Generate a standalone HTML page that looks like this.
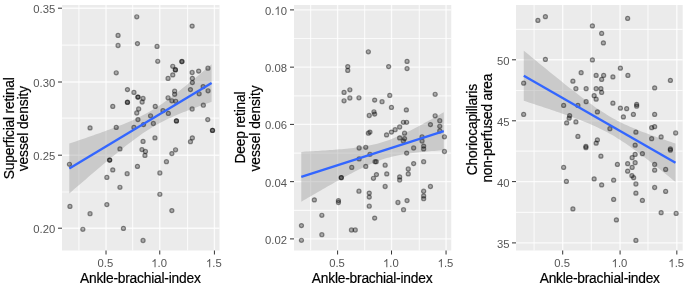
<!DOCTYPE html><html><head><meta charset="utf-8"><style>html,body{margin:0;padding:0;background:#fff;overflow:hidden}</style></head><body><svg width="685" height="288" viewBox="0 0 685 288" style="display:block;filter:blur(0.6px)">
<rect width="685" height="288" fill="#ffffff"/>
<rect x="62.0" y="5.0" width="157.50" height="245.50" fill="#EBEBEB"/>
<line x1="62.0" x2="219.5" y1="45.20" y2="45.20" stroke="#fff" stroke-opacity="0.72" stroke-width="1.2"/>
<line x1="62.0" x2="219.5" y1="118.10" y2="118.10" stroke="#fff" stroke-opacity="0.72" stroke-width="1.2"/>
<line x1="62.0" x2="219.5" y1="192.00" y2="192.00" stroke="#fff" stroke-opacity="0.72" stroke-width="1.2"/>
<line x1="78.93" x2="78.93" y1="5.0" y2="250.5" stroke="#fff" stroke-opacity="0.72" stroke-width="1.2"/>
<line x1="132.66" x2="132.66" y1="5.0" y2="250.5" stroke="#fff" stroke-opacity="0.72" stroke-width="1.2"/>
<line x1="187.55" x2="187.55" y1="5.0" y2="250.5" stroke="#fff" stroke-opacity="0.72" stroke-width="1.2"/>
<line x1="62.0" x2="219.5" y1="8.20" y2="8.20" stroke="#fff" stroke-opacity="0.78" stroke-width="1.4"/>
<line x1="62.0" x2="219.5" y1="82.00" y2="82.00" stroke="#fff" stroke-opacity="0.78" stroke-width="1.4"/>
<line x1="62.0" x2="219.5" y1="155.20" y2="155.20" stroke="#fff" stroke-opacity="0.78" stroke-width="1.4"/>
<line x1="62.0" x2="219.5" y1="228.20" y2="228.20" stroke="#fff" stroke-opacity="0.78" stroke-width="1.4"/>
<line x1="106.03" x2="106.03" y1="5.0" y2="250.5" stroke="#fff" stroke-opacity="0.78" stroke-width="1.4"/>
<line x1="159.75" x2="159.75" y1="5.0" y2="250.5" stroke="#fff" stroke-opacity="0.78" stroke-width="1.4"/>
<line x1="214.41" x2="214.41" y1="5.0" y2="250.5" stroke="#fff" stroke-opacity="0.78" stroke-width="1.4"/>
<polygon fill="#999999" fill-opacity="0.4" points="69.30,143.54 71.67,142.74 74.04,141.94 76.41,141.14 78.79,140.34 81.16,139.53 83.53,138.72 85.90,137.91 88.27,137.09 90.64,136.27 93.02,135.44 95.39,134.61 97.76,133.77 100.13,132.93 102.50,132.08 104.88,131.22 107.25,130.36 109.62,129.48 111.99,128.60 114.36,127.70 116.73,126.79 119.10,125.87 121.48,124.93 123.85,123.97 126.22,122.99 128.59,121.99 130.96,120.96 133.34,119.91 135.71,118.82 138.08,117.69 140.45,116.53 142.82,115.33 145.19,114.08 147.56,112.78 149.94,111.43 152.31,110.02 154.68,108.57 157.05,107.07 159.42,105.51 161.80,103.91 164.17,102.26 166.54,100.57 168.91,98.84 171.28,97.07 173.65,95.27 176.03,93.45 178.40,91.60 180.77,89.72 183.14,87.83 185.51,85.92 187.88,83.99 190.25,82.05 192.63,80.09 195.00,78.13 197.37,76.15 199.74,74.16 202.11,72.17 204.49,70.17 206.86,68.16 209.23,66.15 211.60,64.13 211.60,101.87 209.23,102.70 206.86,103.54 204.49,104.38 202.11,105.23 199.74,106.09 197.37,106.95 195.00,107.82 192.63,108.71 190.25,109.60 187.88,110.51 185.51,111.43 183.14,112.37 180.77,113.33 178.40,114.30 176.03,115.30 173.65,116.33 171.28,117.38 168.91,118.46 166.54,119.58 164.17,120.74 161.80,121.94 159.42,123.19 157.05,124.48 154.68,125.83 152.31,127.23 149.94,128.67 147.56,130.17 145.19,131.72 142.82,133.32 140.45,134.97 138.08,136.66 135.71,138.38 133.34,140.14 130.96,141.94 128.59,143.76 126.22,145.61 123.85,147.48 121.48,149.37 119.10,151.28 116.73,153.21 114.36,155.15 111.99,157.10 109.62,159.07 107.25,161.04 104.88,163.03 102.50,165.02 100.13,167.02 97.76,169.03 95.39,171.04 93.02,173.06 90.64,175.08 88.27,177.11 85.90,179.14 83.53,181.18 81.16,183.22 78.79,185.26 76.41,187.31 74.04,189.36 71.67,191.41 69.30,193.46"/>
<circle cx="136.75" cy="16.799999999999997" r="2.05" fill="#000" fill-opacity="0.28" stroke="#000" stroke-opacity="0.42" stroke-width="1.2"/>
<circle cx="192.15" cy="26.099999999999998" r="2.05" fill="#000" fill-opacity="0.28" stroke="#000" stroke-opacity="0.42" stroke-width="1.2"/>
<circle cx="118.05000000000001" cy="35.4" r="2.05" fill="#000" fill-opacity="0.28" stroke="#000" stroke-opacity="0.42" stroke-width="1.2"/>
<circle cx="118.05000000000001" cy="45.5" r="2.05" fill="#000" fill-opacity="0.28" stroke="#000" stroke-opacity="0.42" stroke-width="1.2"/>
<circle cx="137.45000000000002" cy="43.6" r="2.05" fill="#000" fill-opacity="0.28" stroke="#000" stroke-opacity="0.42" stroke-width="1.2"/>
<circle cx="157.05" cy="46.4" r="2.05" fill="#000" fill-opacity="0.28" stroke="#000" stroke-opacity="0.42" stroke-width="1.2"/>
<circle cx="157.75" cy="61.3" r="2.05" fill="#000" fill-opacity="0.28" stroke="#000" stroke-opacity="0.42" stroke-width="1.2"/>
<circle cx="181.85" cy="61.6" r="2.05" fill="#000" fill-opacity="0.28" stroke="#000" stroke-opacity="0.42" stroke-width="1.2"/>
<circle cx="172.75" cy="66.30000000000001" r="2.05" fill="#000" fill-opacity="0.28" stroke="#000" stroke-opacity="0.42" stroke-width="1.2"/>
<circle cx="207.95000000000002" cy="68.2" r="2.05" fill="#000" fill-opacity="0.28" stroke="#000" stroke-opacity="0.42" stroke-width="1.2"/>
<circle cx="175.35" cy="69.7" r="2.05" fill="#000" fill-opacity="0.28" stroke="#000" stroke-opacity="0.42" stroke-width="1.2"/>
<circle cx="116.25" cy="72.80000000000001" r="2.05" fill="#000" fill-opacity="0.28" stroke="#000" stroke-opacity="0.42" stroke-width="1.2"/>
<circle cx="192.15" cy="72.5" r="2.05" fill="#000" fill-opacity="0.28" stroke="#000" stroke-opacity="0.42" stroke-width="1.2"/>
<circle cx="198.65" cy="71.10000000000001" r="2.05" fill="#000" fill-opacity="0.28" stroke="#000" stroke-opacity="0.42" stroke-width="1.2"/>
<circle cx="172.75" cy="74.9" r="2.05" fill="#000" fill-opacity="0.28" stroke="#000" stroke-opacity="0.42" stroke-width="1.2"/>
<circle cx="168.05" cy="78.4" r="2.05" fill="#000" fill-opacity="0.28" stroke="#000" stroke-opacity="0.42" stroke-width="1.2"/>
<circle cx="192.35" cy="78.4" r="2.05" fill="#000" fill-opacity="0.28" stroke="#000" stroke-opacity="0.42" stroke-width="1.2"/>
<circle cx="192.35" cy="82.60000000000001" r="2.05" fill="#000" fill-opacity="0.28" stroke="#000" stroke-opacity="0.42" stroke-width="1.2"/>
<circle cx="127.45" cy="89.60000000000001" r="2.05" fill="#000" fill-opacity="0.28" stroke="#000" stroke-opacity="0.42" stroke-width="1.2"/>
<circle cx="133.95000000000002" cy="92.4" r="2.05" fill="#000" fill-opacity="0.28" stroke="#000" stroke-opacity="0.42" stroke-width="1.2"/>
<circle cx="174.65" cy="91.2" r="2.05" fill="#000" fill-opacity="0.28" stroke="#000" stroke-opacity="0.42" stroke-width="1.2"/>
<circle cx="174.65" cy="94.30000000000001" r="2.05" fill="#000" fill-opacity="0.28" stroke="#000" stroke-opacity="0.42" stroke-width="1.2"/>
<circle cx="137.95000000000002" cy="97.10000000000001" r="2.05" fill="#000" fill-opacity="0.28" stroke="#000" stroke-opacity="0.42" stroke-width="1.2"/>
<circle cx="143.05" cy="98.5" r="2.05" fill="#000" fill-opacity="0.28" stroke="#000" stroke-opacity="0.42" stroke-width="1.2"/>
<circle cx="142.15" cy="102.0" r="2.05" fill="#000" fill-opacity="0.28" stroke="#000" stroke-opacity="0.42" stroke-width="1.2"/>
<circle cx="127.45" cy="102.4" r="2.05" fill="#000" fill-opacity="0.28" stroke="#000" stroke-opacity="0.42" stroke-width="1.2"/>
<circle cx="168.05" cy="97.80000000000001" r="2.05" fill="#000" fill-opacity="0.28" stroke="#000" stroke-opacity="0.42" stroke-width="1.2"/>
<circle cx="171.85" cy="100.80000000000001" r="2.05" fill="#000" fill-opacity="0.28" stroke="#000" stroke-opacity="0.42" stroke-width="1.2"/>
<circle cx="175.75" cy="101.30000000000001" r="2.05" fill="#000" fill-opacity="0.28" stroke="#000" stroke-opacity="0.42" stroke-width="1.2"/>
<circle cx="190.45000000000002" cy="89.60000000000001" r="2.05" fill="#000" fill-opacity="0.28" stroke="#000" stroke-opacity="0.42" stroke-width="1.2"/>
<circle cx="203.15" cy="86.60000000000001" r="2.05" fill="#000" fill-opacity="0.28" stroke="#000" stroke-opacity="0.42" stroke-width="1.2"/>
<circle cx="208.05" cy="90.80000000000001" r="2.05" fill="#000" fill-opacity="0.28" stroke="#000" stroke-opacity="0.42" stroke-width="1.2"/>
<circle cx="199.15" cy="93.80000000000001" r="2.05" fill="#000" fill-opacity="0.28" stroke="#000" stroke-opacity="0.42" stroke-width="1.2"/>
<circle cx="112.75" cy="106.4" r="2.05" fill="#000" fill-opacity="0.28" stroke="#000" stroke-opacity="0.42" stroke-width="1.2"/>
<circle cx="155.25" cy="106.4" r="2.05" fill="#000" fill-opacity="0.28" stroke="#000" stroke-opacity="0.42" stroke-width="1.2"/>
<circle cx="138.65" cy="109.0" r="2.05" fill="#000" fill-opacity="0.28" stroke="#000" stroke-opacity="0.42" stroke-width="1.2"/>
<circle cx="136.75" cy="113.0" r="2.05" fill="#000" fill-opacity="0.28" stroke="#000" stroke-opacity="0.42" stroke-width="1.2"/>
<circle cx="162.95000000000002" cy="110.60000000000001" r="2.05" fill="#000" fill-opacity="0.28" stroke="#000" stroke-opacity="0.42" stroke-width="1.2"/>
<circle cx="168.35" cy="113.4" r="2.05" fill="#000" fill-opacity="0.28" stroke="#000" stroke-opacity="0.42" stroke-width="1.2"/>
<circle cx="150.55" cy="115.80000000000001" r="2.05" fill="#000" fill-opacity="0.28" stroke="#000" stroke-opacity="0.42" stroke-width="1.2"/>
<circle cx="192.15" cy="109.0" r="2.05" fill="#000" fill-opacity="0.28" stroke="#000" stroke-opacity="0.42" stroke-width="1.2"/>
<circle cx="203.35" cy="105.2" r="2.05" fill="#000" fill-opacity="0.28" stroke="#000" stroke-opacity="0.42" stroke-width="1.2"/>
<circle cx="137.95000000000002" cy="119.60000000000001" r="2.05" fill="#000" fill-opacity="0.28" stroke="#000" stroke-opacity="0.42" stroke-width="1.2"/>
<circle cx="153.35" cy="123.5" r="2.05" fill="#000" fill-opacity="0.28" stroke="#000" stroke-opacity="0.42" stroke-width="1.2"/>
<circle cx="176.45000000000002" cy="120.9" r="2.05" fill="#000" fill-opacity="0.28" stroke="#000" stroke-opacity="0.42" stroke-width="1.2"/>
<circle cx="207.75" cy="119.60000000000001" r="2.05" fill="#000" fill-opacity="0.28" stroke="#000" stroke-opacity="0.42" stroke-width="1.2"/>
<circle cx="116.25" cy="127.4" r="2.05" fill="#000" fill-opacity="0.28" stroke="#000" stroke-opacity="0.42" stroke-width="1.2"/>
<circle cx="90.05000000000001" cy="127.9" r="2.05" fill="#000" fill-opacity="0.28" stroke="#000" stroke-opacity="0.42" stroke-width="1.2"/>
<circle cx="133.95000000000002" cy="127.4" r="2.05" fill="#000" fill-opacity="0.28" stroke="#000" stroke-opacity="0.42" stroke-width="1.2"/>
<circle cx="143.55" cy="124.60000000000001" r="2.05" fill="#000" fill-opacity="0.28" stroke="#000" stroke-opacity="0.42" stroke-width="1.2"/>
<circle cx="212.45000000000002" cy="130.4" r="2.05" fill="#000" fill-opacity="0.28" stroke="#000" stroke-opacity="0.42" stroke-width="1.2"/>
<circle cx="154.95000000000002" cy="137.9" r="2.05" fill="#000" fill-opacity="0.28" stroke="#000" stroke-opacity="0.42" stroke-width="1.2"/>
<circle cx="143.05" cy="141.4" r="2.05" fill="#000" fill-opacity="0.28" stroke="#000" stroke-opacity="0.42" stroke-width="1.2"/>
<circle cx="192.35" cy="137.9" r="2.05" fill="#000" fill-opacity="0.28" stroke="#000" stroke-opacity="0.42" stroke-width="1.2"/>
<circle cx="190.45000000000002" cy="141.70000000000002" r="2.05" fill="#000" fill-opacity="0.28" stroke="#000" stroke-opacity="0.42" stroke-width="1.2"/>
<circle cx="119.95" cy="148.9" r="2.05" fill="#000" fill-opacity="0.28" stroke="#000" stroke-opacity="0.42" stroke-width="1.2"/>
<circle cx="141.95000000000002" cy="149.6" r="2.05" fill="#000" fill-opacity="0.28" stroke="#000" stroke-opacity="0.42" stroke-width="1.2"/>
<circle cx="145.45000000000002" cy="151.5" r="2.05" fill="#000" fill-opacity="0.28" stroke="#000" stroke-opacity="0.42" stroke-width="1.2"/>
<circle cx="144.95000000000002" cy="155.4" r="2.05" fill="#000" fill-opacity="0.28" stroke="#000" stroke-opacity="0.42" stroke-width="1.2"/>
<circle cx="175.55" cy="149.8" r="2.05" fill="#000" fill-opacity="0.28" stroke="#000" stroke-opacity="0.42" stroke-width="1.2"/>
<circle cx="171.85" cy="153.6" r="2.05" fill="#000" fill-opacity="0.28" stroke="#000" stroke-opacity="0.42" stroke-width="1.2"/>
<circle cx="69.45" cy="164.3" r="2.05" fill="#000" fill-opacity="0.28" stroke="#000" stroke-opacity="0.42" stroke-width="1.2"/>
<circle cx="109.65" cy="160.1" r="2.05" fill="#000" fill-opacity="0.28" stroke="#000" stroke-opacity="0.42" stroke-width="1.2"/>
<circle cx="166.45000000000002" cy="161.70000000000002" r="2.05" fill="#000" fill-opacity="0.28" stroke="#000" stroke-opacity="0.42" stroke-width="1.2"/>
<circle cx="137.45000000000002" cy="166.4" r="2.05" fill="#000" fill-opacity="0.28" stroke="#000" stroke-opacity="0.42" stroke-width="1.2"/>
<circle cx="112.75" cy="169.9" r="2.05" fill="#000" fill-opacity="0.28" stroke="#000" stroke-opacity="0.42" stroke-width="1.2"/>
<circle cx="127.15" cy="173.70000000000002" r="2.05" fill="#000" fill-opacity="0.28" stroke="#000" stroke-opacity="0.42" stroke-width="1.2"/>
<circle cx="159.85" cy="173.0" r="2.05" fill="#000" fill-opacity="0.28" stroke="#000" stroke-opacity="0.42" stroke-width="1.2"/>
<circle cx="106.85000000000001" cy="177.4" r="2.05" fill="#000" fill-opacity="0.28" stroke="#000" stroke-opacity="0.42" stroke-width="1.2"/>
<circle cx="119.95" cy="187.3" r="2.05" fill="#000" fill-opacity="0.28" stroke="#000" stroke-opacity="0.42" stroke-width="1.2"/>
<circle cx="159.85" cy="194.3" r="2.05" fill="#000" fill-opacity="0.28" stroke="#000" stroke-opacity="0.42" stroke-width="1.2"/>
<circle cx="69.95" cy="206.4" r="2.05" fill="#000" fill-opacity="0.28" stroke="#000" stroke-opacity="0.42" stroke-width="1.2"/>
<circle cx="106.85000000000001" cy="204.6" r="2.05" fill="#000" fill-opacity="0.28" stroke="#000" stroke-opacity="0.42" stroke-width="1.2"/>
<circle cx="90.05000000000001" cy="213.70000000000002" r="2.05" fill="#000" fill-opacity="0.28" stroke="#000" stroke-opacity="0.42" stroke-width="1.2"/>
<circle cx="171.85" cy="210.6" r="2.05" fill="#000" fill-opacity="0.28" stroke="#000" stroke-opacity="0.42" stroke-width="1.2"/>
<circle cx="82.85000000000001" cy="229.3" r="2.05" fill="#000" fill-opacity="0.28" stroke="#000" stroke-opacity="0.42" stroke-width="1.2"/>
<circle cx="123.45" cy="228.4" r="2.05" fill="#000" fill-opacity="0.28" stroke="#000" stroke-opacity="0.42" stroke-width="1.2"/>
<circle cx="143.05" cy="240.5" r="2.05" fill="#000" fill-opacity="0.28" stroke="#000" stroke-opacity="0.42" stroke-width="1.2"/>
<circle cx="181.95000000000002" cy="61.5" r="2.05" fill="#000" fill-opacity="0.28" stroke="#000" stroke-opacity="0.42" stroke-width="1.2"/>
<circle cx="175.45000000000002" cy="69.9" r="2.05" fill="#000" fill-opacity="0.28" stroke="#000" stroke-opacity="0.42" stroke-width="1.2"/>
<circle cx="137.95000000000002" cy="97.10000000000001" r="2.05" fill="#000" fill-opacity="0.28" stroke="#000" stroke-opacity="0.42" stroke-width="1.2"/>
<circle cx="127.45" cy="102.2" r="2.05" fill="#000" fill-opacity="0.28" stroke="#000" stroke-opacity="0.42" stroke-width="1.2"/>
<circle cx="176.45000000000002" cy="120.9" r="2.05" fill="#000" fill-opacity="0.28" stroke="#000" stroke-opacity="0.42" stroke-width="1.2"/>
<circle cx="212.55" cy="130.4" r="2.05" fill="#000" fill-opacity="0.28" stroke="#000" stroke-opacity="0.42" stroke-width="1.2"/>
<circle cx="109.65" cy="160.1" r="2.05" fill="#000" fill-opacity="0.28" stroke="#000" stroke-opacity="0.42" stroke-width="1.2"/>
<line x1="69.3" y1="168.5" x2="211.6" y2="83.0" stroke="#3366FF" stroke-width="2.3" stroke-linecap="butt"/>
<line x1="58.0" x2="62.0" y1="8.20" y2="8.20" stroke="#333" stroke-width="1"/>
<line x1="58.0" x2="62.0" y1="82.00" y2="82.00" stroke="#333" stroke-width="1"/>
<line x1="58.0" x2="62.0" y1="155.20" y2="155.20" stroke="#333" stroke-width="1"/>
<line x1="58.0" x2="62.0" y1="228.20" y2="228.20" stroke="#333" stroke-width="1"/>
<line x1="106.03" x2="106.03" y1="250.5" y2="254.5" stroke="#333" stroke-width="1"/>
<line x1="159.75" x2="159.75" y1="250.5" y2="254.5" stroke="#333" stroke-width="1"/>
<line x1="214.41" x2="214.41" y1="250.5" y2="254.5" stroke="#333" stroke-width="1"/>
<g transform="translate(33.31,13.25) scale(1,1.04)"><text x="0.00" y="0" font-family='"Liberation Sans", sans-serif' font-size="11.3" fill="#555555" stroke="#555555" stroke-width="0.0">0</text><text x="6.28" y="0" font-family='"Liberation Sans", sans-serif' font-size="11.3" fill="#555555" stroke="#555555" stroke-width="0.0">.</text><text x="9.42" y="0" font-family='"Liberation Sans", sans-serif' font-size="11.3" fill="#555555" stroke="#555555" stroke-width="0.0">3</text><text x="15.71" y="0" font-family='"Liberation Sans", sans-serif' font-size="11.3" fill="#555555" stroke="#555555" stroke-width="0.0">5</text></g>
<g transform="translate(33.31,87.05) scale(1,1.04)"><text x="0.00" y="0" font-family='"Liberation Sans", sans-serif' font-size="11.3" fill="#555555" stroke="#555555" stroke-width="0.0">0</text><text x="6.28" y="0" font-family='"Liberation Sans", sans-serif' font-size="11.3" fill="#555555" stroke="#555555" stroke-width="0.0">.</text><text x="9.42" y="0" font-family='"Liberation Sans", sans-serif' font-size="11.3" fill="#555555" stroke="#555555" stroke-width="0.0">3</text><text x="15.71" y="0" font-family='"Liberation Sans", sans-serif' font-size="11.3" fill="#555555" stroke="#555555" stroke-width="0.0">0</text></g>
<g transform="translate(33.31,160.25) scale(1,1.04)"><text x="0.00" y="0" font-family='"Liberation Sans", sans-serif' font-size="11.3" fill="#555555" stroke="#555555" stroke-width="0.0">0</text><text x="6.28" y="0" font-family='"Liberation Sans", sans-serif' font-size="11.3" fill="#555555" stroke="#555555" stroke-width="0.0">.</text><text x="9.42" y="0" font-family='"Liberation Sans", sans-serif' font-size="11.3" fill="#555555" stroke="#555555" stroke-width="0.0">2</text><text x="15.71" y="0" font-family='"Liberation Sans", sans-serif' font-size="11.3" fill="#555555" stroke="#555555" stroke-width="0.0">5</text></g>
<g transform="translate(33.31,233.25) scale(1,1.04)"><text x="0.00" y="0" font-family='"Liberation Sans", sans-serif' font-size="11.3" fill="#555555" stroke="#555555" stroke-width="0.0">0</text><text x="6.28" y="0" font-family='"Liberation Sans", sans-serif' font-size="11.3" fill="#555555" stroke="#555555" stroke-width="0.0">.</text><text x="9.42" y="0" font-family='"Liberation Sans", sans-serif' font-size="11.3" fill="#555555" stroke="#555555" stroke-width="0.0">2</text><text x="15.71" y="0" font-family='"Liberation Sans", sans-serif' font-size="11.3" fill="#555555" stroke="#555555" stroke-width="0.0">0</text></g>
<g transform="translate(97.58,267.35) scale(1,1.04)"><text x="0.00" y="0" font-family='"Liberation Sans", sans-serif' font-size="11.3" fill="#555555" stroke="#555555" stroke-width="0.0">0</text><text x="6.28" y="0" font-family='"Liberation Sans", sans-serif' font-size="11.3" fill="#555555" stroke="#555555" stroke-width="0.0">.</text><text x="9.42" y="0" font-family='"Liberation Sans", sans-serif' font-size="11.3" fill="#555555" stroke="#555555" stroke-width="0.0">5</text></g>
<g transform="translate(151.30,267.35) scale(1,1.04)"><path d="M4.24,-8.09 L4.24,0.00 L3.24,0.00 L3.24,-6.33 L2.77,-5.88 L2.03,-5.42 L1.19,-5.09 L1.19,-6.05 L2.15,-6.55 L2.83,-7.18 L3.39,-8.09Z" fill="#555555" stroke="#555555" stroke-width="0.0"/><text x="6.28" y="0" font-family='"Liberation Sans", sans-serif' font-size="11.3" fill="#555555" stroke="#555555" stroke-width="0.0">.</text><text x="9.42" y="0" font-family='"Liberation Sans", sans-serif' font-size="11.3" fill="#555555" stroke="#555555" stroke-width="0.0">0</text></g>
<g transform="translate(205.96,267.35) scale(1,1.04)"><path d="M4.24,-8.09 L4.24,0.00 L3.24,0.00 L3.24,-6.33 L2.77,-5.88 L2.03,-5.42 L1.19,-5.09 L1.19,-6.05 L2.15,-6.55 L2.83,-7.18 L3.39,-8.09Z" fill="#555555" stroke="#555555" stroke-width="0.0"/><text x="6.28" y="0" font-family='"Liberation Sans", sans-serif' font-size="11.3" fill="#555555" stroke="#555555" stroke-width="0.0">.</text><text x="9.42" y="0" font-family='"Liberation Sans", sans-serif' font-size="11.3" fill="#555555" stroke="#555555" stroke-width="0.0">5</text></g>
<text transform="translate(80.00,282.9) scale(1,1.05)" x="0" y="0" textLength="120.80" lengthAdjust="spacing" font-family='"Liberation Sans", sans-serif' font-size="13.8" fill="#000" stroke="#000" stroke-width="0.18">Ankle-brachial-index</text>
<text transform="translate(13.75,179.20) rotate(-90) scale(1,1.05)" x="0" y="0" textLength="102.10" lengthAdjust="spacing" font-family='"Liberation Sans", sans-serif' font-size="13.8" fill="#000" stroke="#000" stroke-width="0.18">Superficial retinal</text>
<text transform="translate(27.75,171.30) rotate(-90) scale(1,1.05)" x="0" y="0" textLength="85.50" lengthAdjust="spacing" font-family='"Liberation Sans", sans-serif' font-size="13.8" fill="#000" stroke="#000" stroke-width="0.18">vessel density</text>
<rect x="294.0" y="5.0" width="157.25" height="245.50" fill="#EBEBEB"/>
<line x1="294.0" x2="451.25" y1="38.52" y2="38.52" stroke="#fff" stroke-opacity="0.72" stroke-width="1.2"/>
<line x1="294.0" x2="451.25" y1="95.78" y2="95.78" stroke="#fff" stroke-opacity="0.72" stroke-width="1.2"/>
<line x1="294.0" x2="451.25" y1="153.03" y2="153.03" stroke="#fff" stroke-opacity="0.72" stroke-width="1.2"/>
<line x1="294.0" x2="451.25" y1="210.28" y2="210.28" stroke="#fff" stroke-opacity="0.72" stroke-width="1.2"/>
<line x1="310.60" x2="310.60" y1="5.0" y2="250.5" stroke="#fff" stroke-opacity="0.72" stroke-width="1.2"/>
<line x1="364.66" x2="364.66" y1="5.0" y2="250.5" stroke="#fff" stroke-opacity="0.72" stroke-width="1.2"/>
<line x1="419.30" x2="419.30" y1="5.0" y2="250.5" stroke="#fff" stroke-opacity="0.72" stroke-width="1.2"/>
<line x1="294.0" x2="451.25" y1="9.90" y2="9.90" stroke="#fff" stroke-opacity="0.78" stroke-width="1.4"/>
<line x1="294.0" x2="451.25" y1="67.15" y2="67.15" stroke="#fff" stroke-opacity="0.78" stroke-width="1.4"/>
<line x1="294.0" x2="451.25" y1="124.40" y2="124.40" stroke="#fff" stroke-opacity="0.78" stroke-width="1.4"/>
<line x1="294.0" x2="451.25" y1="181.65" y2="181.65" stroke="#fff" stroke-opacity="0.78" stroke-width="1.4"/>
<line x1="294.0" x2="451.25" y1="238.90" y2="238.90" stroke="#fff" stroke-opacity="0.78" stroke-width="1.4"/>
<line x1="337.60" x2="337.60" y1="5.0" y2="250.5" stroke="#fff" stroke-opacity="0.78" stroke-width="1.4"/>
<line x1="391.52" x2="391.52" y1="5.0" y2="250.5" stroke="#fff" stroke-opacity="0.78" stroke-width="1.4"/>
<line x1="446.06" x2="446.06" y1="5.0" y2="250.5" stroke="#fff" stroke-opacity="0.78" stroke-width="1.4"/>
<polygon fill="#999999" fill-opacity="0.4" points="301.30,151.88 303.68,151.75 306.05,151.62 308.43,151.48 310.80,151.35 313.18,151.20 315.55,151.06 317.93,150.91 320.30,150.76 322.68,150.61 325.05,150.45 327.43,150.28 329.80,150.11 332.18,149.93 334.55,149.75 336.93,149.56 339.30,149.36 341.68,149.15 344.05,148.93 346.43,148.70 348.80,148.45 351.18,148.19 353.55,147.92 355.93,147.62 358.30,147.31 360.68,146.97 363.05,146.60 365.43,146.21 367.80,145.78 370.18,145.32 372.55,144.82 374.93,144.27 377.30,143.68 379.68,143.04 382.05,142.34 384.43,141.60 386.80,140.80 389.18,139.95 391.55,139.05 393.93,138.11 396.30,137.12 398.68,136.08 401.05,135.01 403.43,133.90 405.80,132.77 408.18,131.60 410.55,130.41 412.93,129.20 415.30,127.96 417.68,126.71 420.05,125.44 422.43,124.16 424.80,122.87 427.18,121.57 429.55,120.25 431.93,118.93 434.30,117.60 436.68,116.26 439.05,114.91 441.43,113.56 443.80,112.20 443.80,150.20 441.43,150.36 439.05,150.53 436.68,150.70 434.30,150.88 431.93,151.07 429.55,151.27 427.18,151.47 424.80,151.69 422.43,151.92 420.05,152.16 417.68,152.41 415.30,152.68 412.93,152.96 410.55,153.27 408.18,153.60 405.80,153.95 403.43,154.34 401.05,154.75 398.68,155.20 396.30,155.68 393.93,156.21 391.55,156.79 389.18,157.41 386.80,158.08 384.43,158.80 382.05,159.58 379.68,160.40 377.30,161.28 374.93,162.21 372.55,163.18 370.18,164.20 367.80,165.26 365.43,166.35 363.05,167.48 360.68,168.63 358.30,169.81 355.93,171.02 353.55,172.24 351.18,173.49 348.80,174.75 346.43,176.02 344.05,177.31 341.68,178.61 339.30,179.92 336.93,181.24 334.55,182.57 332.18,183.91 329.80,185.25 327.43,186.60 325.05,187.95 322.68,189.31 320.30,190.68 317.93,192.05 315.55,193.42 313.18,194.80 310.80,196.17 308.43,197.56 306.05,198.94 303.68,200.33 301.30,201.72"/>
<circle cx="368.34999999999997" cy="51.8" r="2.05" fill="#000" fill-opacity="0.28" stroke="#000" stroke-opacity="0.42" stroke-width="1.2"/>
<circle cx="347.75" cy="66.60000000000001" r="2.05" fill="#000" fill-opacity="0.28" stroke="#000" stroke-opacity="0.42" stroke-width="1.2"/>
<circle cx="388.65" cy="66.60000000000001" r="2.05" fill="#000" fill-opacity="0.28" stroke="#000" stroke-opacity="0.42" stroke-width="1.2"/>
<circle cx="407.04999999999995" cy="61.4" r="2.05" fill="#000" fill-opacity="0.28" stroke="#000" stroke-opacity="0.42" stroke-width="1.2"/>
<circle cx="347.75" cy="70.4" r="2.05" fill="#000" fill-opacity="0.28" stroke="#000" stroke-opacity="0.42" stroke-width="1.2"/>
<circle cx="407.04999999999995" cy="68.60000000000001" r="2.05" fill="#000" fill-opacity="0.28" stroke="#000" stroke-opacity="0.42" stroke-width="1.2"/>
<circle cx="344.04999999999995" cy="92.4" r="2.05" fill="#000" fill-opacity="0.28" stroke="#000" stroke-opacity="0.42" stroke-width="1.2"/>
<circle cx="349.84999999999997" cy="89.80000000000001" r="2.05" fill="#000" fill-opacity="0.28" stroke="#000" stroke-opacity="0.42" stroke-width="1.2"/>
<circle cx="349.84999999999997" cy="98.0" r="2.05" fill="#000" fill-opacity="0.28" stroke="#000" stroke-opacity="0.42" stroke-width="1.2"/>
<circle cx="344.04999999999995" cy="100.80000000000001" r="2.05" fill="#000" fill-opacity="0.28" stroke="#000" stroke-opacity="0.42" stroke-width="1.2"/>
<circle cx="358.95" cy="97.80000000000001" r="2.05" fill="#000" fill-opacity="0.28" stroke="#000" stroke-opacity="0.42" stroke-width="1.2"/>
<circle cx="374.65" cy="100.10000000000001" r="2.05" fill="#000" fill-opacity="0.28" stroke="#000" stroke-opacity="0.42" stroke-width="1.2"/>
<circle cx="382.04999999999995" cy="101.7" r="2.05" fill="#000" fill-opacity="0.28" stroke="#000" stroke-opacity="0.42" stroke-width="1.2"/>
<circle cx="389.75" cy="95.4" r="2.05" fill="#000" fill-opacity="0.28" stroke="#000" stroke-opacity="0.42" stroke-width="1.2"/>
<circle cx="391.45" cy="107.4" r="2.05" fill="#000" fill-opacity="0.28" stroke="#000" stroke-opacity="0.42" stroke-width="1.2"/>
<circle cx="406.34999999999997" cy="109.9" r="2.05" fill="#000" fill-opacity="0.28" stroke="#000" stroke-opacity="0.42" stroke-width="1.2"/>
<circle cx="435.15" cy="94.30000000000001" r="2.05" fill="#000" fill-opacity="0.28" stroke="#000" stroke-opacity="0.42" stroke-width="1.2"/>
<circle cx="369.25" cy="115.5" r="2.05" fill="#000" fill-opacity="0.28" stroke="#000" stroke-opacity="0.42" stroke-width="1.2"/>
<circle cx="373.95" cy="111.80000000000001" r="2.05" fill="#000" fill-opacity="0.28" stroke="#000" stroke-opacity="0.42" stroke-width="1.2"/>
<circle cx="374.65" cy="114.10000000000001" r="2.05" fill="#000" fill-opacity="0.28" stroke="#000" stroke-opacity="0.42" stroke-width="1.2"/>
<circle cx="435.15" cy="115.80000000000001" r="2.05" fill="#000" fill-opacity="0.28" stroke="#000" stroke-opacity="0.42" stroke-width="1.2"/>
<circle cx="439.75" cy="120.7" r="2.05" fill="#000" fill-opacity="0.28" stroke="#000" stroke-opacity="0.42" stroke-width="1.2"/>
<circle cx="430.45" cy="124.60000000000001" r="2.05" fill="#000" fill-opacity="0.28" stroke="#000" stroke-opacity="0.42" stroke-width="1.2"/>
<circle cx="439.75" cy="126.30000000000001" r="2.05" fill="#000" fill-opacity="0.28" stroke="#000" stroke-opacity="0.42" stroke-width="1.2"/>
<circle cx="403.34999999999997" cy="122.30000000000001" r="2.05" fill="#000" fill-opacity="0.28" stroke="#000" stroke-opacity="0.42" stroke-width="1.2"/>
<circle cx="406.65" cy="122.30000000000001" r="2.05" fill="#000" fill-opacity="0.28" stroke="#000" stroke-opacity="0.42" stroke-width="1.2"/>
<circle cx="399.65" cy="127.0" r="2.05" fill="#000" fill-opacity="0.28" stroke="#000" stroke-opacity="0.42" stroke-width="1.2"/>
<circle cx="439.75" cy="130.9" r="2.05" fill="#000" fill-opacity="0.28" stroke="#000" stroke-opacity="0.42" stroke-width="1.2"/>
<circle cx="444.45" cy="136.8" r="2.05" fill="#000" fill-opacity="0.28" stroke="#000" stroke-opacity="0.42" stroke-width="1.2"/>
<circle cx="444.45" cy="151.5" r="2.05" fill="#000" fill-opacity="0.28" stroke="#000" stroke-opacity="0.42" stroke-width="1.2"/>
<circle cx="368.34999999999997" cy="133.20000000000002" r="2.05" fill="#000" fill-opacity="0.28" stroke="#000" stroke-opacity="0.42" stroke-width="1.2"/>
<circle cx="369.95" cy="132.1" r="2.05" fill="#000" fill-opacity="0.28" stroke="#000" stroke-opacity="0.42" stroke-width="1.2"/>
<circle cx="386.54999999999995" cy="134.9" r="2.05" fill="#000" fill-opacity="0.28" stroke="#000" stroke-opacity="0.42" stroke-width="1.2"/>
<circle cx="391.45" cy="132.1" r="2.05" fill="#000" fill-opacity="0.28" stroke="#000" stroke-opacity="0.42" stroke-width="1.2"/>
<circle cx="395.15" cy="129.70000000000002" r="2.05" fill="#000" fill-opacity="0.28" stroke="#000" stroke-opacity="0.42" stroke-width="1.2"/>
<circle cx="404.54999999999995" cy="133.20000000000002" r="2.05" fill="#000" fill-opacity="0.28" stroke="#000" stroke-opacity="0.42" stroke-width="1.2"/>
<circle cx="399.65" cy="137.9" r="2.05" fill="#000" fill-opacity="0.28" stroke="#000" stroke-opacity="0.42" stroke-width="1.2"/>
<circle cx="404.54999999999995" cy="138.6" r="2.05" fill="#000" fill-opacity="0.28" stroke="#000" stroke-opacity="0.42" stroke-width="1.2"/>
<circle cx="403.34999999999997" cy="141.0" r="2.05" fill="#000" fill-opacity="0.28" stroke="#000" stroke-opacity="0.42" stroke-width="1.2"/>
<circle cx="422.04999999999995" cy="136.8" r="2.05" fill="#000" fill-opacity="0.28" stroke="#000" stroke-opacity="0.42" stroke-width="1.2"/>
<circle cx="422.04999999999995" cy="141.0" r="2.05" fill="#000" fill-opacity="0.28" stroke="#000" stroke-opacity="0.42" stroke-width="1.2"/>
<circle cx="423.65" cy="146.1" r="2.05" fill="#000" fill-opacity="0.28" stroke="#000" stroke-opacity="0.42" stroke-width="1.2"/>
<circle cx="423.65" cy="148.9" r="2.05" fill="#000" fill-opacity="0.28" stroke="#000" stroke-opacity="0.42" stroke-width="1.2"/>
<circle cx="413.65" cy="148.0" r="2.05" fill="#000" fill-opacity="0.28" stroke="#000" stroke-opacity="0.42" stroke-width="1.2"/>
<circle cx="406.65" cy="153.1" r="2.05" fill="#000" fill-opacity="0.28" stroke="#000" stroke-opacity="0.42" stroke-width="1.2"/>
<circle cx="359.15" cy="148.0" r="2.05" fill="#000" fill-opacity="0.28" stroke="#000" stroke-opacity="0.42" stroke-width="1.2"/>
<circle cx="365.75" cy="147.3" r="2.05" fill="#000" fill-opacity="0.28" stroke="#000" stroke-opacity="0.42" stroke-width="1.2"/>
<circle cx="369.95" cy="154.3" r="2.05" fill="#000" fill-opacity="0.28" stroke="#000" stroke-opacity="0.42" stroke-width="1.2"/>
<circle cx="359.15" cy="158.9" r="2.05" fill="#000" fill-opacity="0.28" stroke="#000" stroke-opacity="0.42" stroke-width="1.2"/>
<circle cx="375.04999999999995" cy="161.70000000000002" r="2.05" fill="#000" fill-opacity="0.28" stroke="#000" stroke-opacity="0.42" stroke-width="1.2"/>
<circle cx="376.25" cy="161.70000000000002" r="2.05" fill="#000" fill-opacity="0.28" stroke="#000" stroke-opacity="0.42" stroke-width="1.2"/>
<circle cx="351.75" cy="167.4" r="2.05" fill="#000" fill-opacity="0.28" stroke="#000" stroke-opacity="0.42" stroke-width="1.2"/>
<circle cx="365.75" cy="166.4" r="2.05" fill="#000" fill-opacity="0.28" stroke="#000" stroke-opacity="0.42" stroke-width="1.2"/>
<circle cx="385.15" cy="165.20000000000002" r="2.05" fill="#000" fill-opacity="0.28" stroke="#000" stroke-opacity="0.42" stroke-width="1.2"/>
<circle cx="413.65" cy="163.6" r="2.05" fill="#000" fill-opacity="0.28" stroke="#000" stroke-opacity="0.42" stroke-width="1.2"/>
<circle cx="423.65" cy="161.70000000000002" r="2.05" fill="#000" fill-opacity="0.28" stroke="#000" stroke-opacity="0.42" stroke-width="1.2"/>
<circle cx="408.25" cy="169.0" r="2.05" fill="#000" fill-opacity="0.28" stroke="#000" stroke-opacity="0.42" stroke-width="1.2"/>
<circle cx="408.25" cy="173.9" r="2.05" fill="#000" fill-opacity="0.28" stroke="#000" stroke-opacity="0.42" stroke-width="1.2"/>
<circle cx="386.75" cy="173.9" r="2.05" fill="#000" fill-opacity="0.28" stroke="#000" stroke-opacity="0.42" stroke-width="1.2"/>
<circle cx="376.45" cy="174.6" r="2.05" fill="#000" fill-opacity="0.28" stroke="#000" stroke-opacity="0.42" stroke-width="1.2"/>
<circle cx="373.45" cy="178.3" r="2.05" fill="#000" fill-opacity="0.28" stroke="#000" stroke-opacity="0.42" stroke-width="1.2"/>
<circle cx="399.65" cy="176.9" r="2.05" fill="#000" fill-opacity="0.28" stroke="#000" stroke-opacity="0.42" stroke-width="1.2"/>
<circle cx="399.65" cy="180.0" r="2.05" fill="#000" fill-opacity="0.28" stroke="#000" stroke-opacity="0.42" stroke-width="1.2"/>
<circle cx="341.25" cy="177.6" r="2.05" fill="#000" fill-opacity="0.28" stroke="#000" stroke-opacity="0.42" stroke-width="1.2"/>
<circle cx="385.15" cy="186.5" r="2.05" fill="#000" fill-opacity="0.28" stroke="#000" stroke-opacity="0.42" stroke-width="1.2"/>
<circle cx="430.45" cy="186.5" r="2.05" fill="#000" fill-opacity="0.28" stroke="#000" stroke-opacity="0.42" stroke-width="1.2"/>
<circle cx="358.95" cy="191.20000000000002" r="2.05" fill="#000" fill-opacity="0.28" stroke="#000" stroke-opacity="0.42" stroke-width="1.2"/>
<circle cx="369.25" cy="193.1" r="2.05" fill="#000" fill-opacity="0.28" stroke="#000" stroke-opacity="0.42" stroke-width="1.2"/>
<circle cx="369.25" cy="197.1" r="2.05" fill="#000" fill-opacity="0.28" stroke="#000" stroke-opacity="0.42" stroke-width="1.2"/>
<circle cx="369.25" cy="206.20000000000002" r="2.05" fill="#000" fill-opacity="0.28" stroke="#000" stroke-opacity="0.42" stroke-width="1.2"/>
<circle cx="314.34999999999997" cy="199.9" r="2.05" fill="#000" fill-opacity="0.28" stroke="#000" stroke-opacity="0.42" stroke-width="1.2"/>
<circle cx="338.45" cy="200.6" r="2.05" fill="#000" fill-opacity="0.28" stroke="#000" stroke-opacity="0.42" stroke-width="1.2"/>
<circle cx="338.45" cy="202.5" r="2.05" fill="#000" fill-opacity="0.28" stroke="#000" stroke-opacity="0.42" stroke-width="1.2"/>
<circle cx="423.65" cy="191.20000000000002" r="2.05" fill="#000" fill-opacity="0.28" stroke="#000" stroke-opacity="0.42" stroke-width="1.2"/>
<circle cx="423.65" cy="195.9" r="2.05" fill="#000" fill-opacity="0.28" stroke="#000" stroke-opacity="0.42" stroke-width="1.2"/>
<circle cx="423.65" cy="198.70000000000002" r="2.05" fill="#000" fill-opacity="0.28" stroke="#000" stroke-opacity="0.42" stroke-width="1.2"/>
<circle cx="397.95" cy="202.5" r="2.05" fill="#000" fill-opacity="0.28" stroke="#000" stroke-opacity="0.42" stroke-width="1.2"/>
<circle cx="407.04999999999995" cy="200.6" r="2.05" fill="#000" fill-opacity="0.28" stroke="#000" stroke-opacity="0.42" stroke-width="1.2"/>
<circle cx="403.54999999999995" cy="209.70000000000002" r="2.05" fill="#000" fill-opacity="0.28" stroke="#000" stroke-opacity="0.42" stroke-width="1.2"/>
<circle cx="321.84999999999997" cy="215.3" r="2.05" fill="#000" fill-opacity="0.28" stroke="#000" stroke-opacity="0.42" stroke-width="1.2"/>
<circle cx="374.65" cy="218.1" r="2.05" fill="#000" fill-opacity="0.28" stroke="#000" stroke-opacity="0.42" stroke-width="1.2"/>
<circle cx="301.45" cy="225.6" r="2.05" fill="#000" fill-opacity="0.28" stroke="#000" stroke-opacity="0.42" stroke-width="1.2"/>
<circle cx="351.45" cy="230.0" r="2.05" fill="#000" fill-opacity="0.28" stroke="#000" stroke-opacity="0.42" stroke-width="1.2"/>
<circle cx="355.25" cy="230.0" r="2.05" fill="#000" fill-opacity="0.28" stroke="#000" stroke-opacity="0.42" stroke-width="1.2"/>
<circle cx="321.84999999999997" cy="234.70000000000002" r="2.05" fill="#000" fill-opacity="0.28" stroke="#000" stroke-opacity="0.42" stroke-width="1.2"/>
<circle cx="301.45" cy="240.3" r="2.05" fill="#000" fill-opacity="0.28" stroke="#000" stroke-opacity="0.42" stroke-width="1.2"/>
<circle cx="341.34999999999997" cy="177.70000000000002" r="2.05" fill="#000" fill-opacity="0.28" stroke="#000" stroke-opacity="0.42" stroke-width="1.2"/>
<line x1="301.3" y1="176.8" x2="443.8" y2="131.2" stroke="#3366FF" stroke-width="2.3" stroke-linecap="butt"/>
<line x1="290.0" x2="294.0" y1="9.90" y2="9.90" stroke="#333" stroke-width="1"/>
<line x1="290.0" x2="294.0" y1="67.15" y2="67.15" stroke="#333" stroke-width="1"/>
<line x1="290.0" x2="294.0" y1="124.40" y2="124.40" stroke="#333" stroke-width="1"/>
<line x1="290.0" x2="294.0" y1="181.65" y2="181.65" stroke="#333" stroke-width="1"/>
<line x1="290.0" x2="294.0" y1="238.90" y2="238.90" stroke="#333" stroke-width="1"/>
<line x1="337.60" x2="337.60" y1="250.5" y2="254.5" stroke="#333" stroke-width="1"/>
<line x1="391.52" x2="391.52" y1="250.5" y2="254.5" stroke="#333" stroke-width="1"/>
<line x1="446.06" x2="446.06" y1="250.5" y2="254.5" stroke="#333" stroke-width="1"/>
<g transform="translate(265.01,14.95) scale(1,1.04)"><text x="0.00" y="0" font-family='"Liberation Sans", sans-serif' font-size="11.3" fill="#555555" stroke="#555555" stroke-width="0.0">0</text><text x="6.28" y="0" font-family='"Liberation Sans", sans-serif' font-size="11.3" fill="#555555" stroke="#555555" stroke-width="0.0">.</text><path d="M13.66,-8.09 L13.66,0.00 L12.67,0.00 L12.67,-6.33 L12.19,-5.88 L11.46,-5.42 L10.61,-5.09 L10.61,-6.05 L11.57,-6.55 L12.25,-7.18 L12.81,-8.09Z" fill="#555555" stroke="#555555" stroke-width="0.0"/><text x="15.71" y="0" font-family='"Liberation Sans", sans-serif' font-size="11.3" fill="#555555" stroke="#555555" stroke-width="0.0">0</text></g>
<g transform="translate(265.01,72.20) scale(1,1.04)"><text x="0.00" y="0" font-family='"Liberation Sans", sans-serif' font-size="11.3" fill="#555555" stroke="#555555" stroke-width="0.0">0</text><text x="6.28" y="0" font-family='"Liberation Sans", sans-serif' font-size="11.3" fill="#555555" stroke="#555555" stroke-width="0.0">.</text><text x="9.42" y="0" font-family='"Liberation Sans", sans-serif' font-size="11.3" fill="#555555" stroke="#555555" stroke-width="0.0">0</text><text x="15.71" y="0" font-family='"Liberation Sans", sans-serif' font-size="11.3" fill="#555555" stroke="#555555" stroke-width="0.0">8</text></g>
<g transform="translate(265.01,129.45) scale(1,1.04)"><text x="0.00" y="0" font-family='"Liberation Sans", sans-serif' font-size="11.3" fill="#555555" stroke="#555555" stroke-width="0.0">0</text><text x="6.28" y="0" font-family='"Liberation Sans", sans-serif' font-size="11.3" fill="#555555" stroke="#555555" stroke-width="0.0">.</text><text x="9.42" y="0" font-family='"Liberation Sans", sans-serif' font-size="11.3" fill="#555555" stroke="#555555" stroke-width="0.0">0</text><text x="15.71" y="0" font-family='"Liberation Sans", sans-serif' font-size="11.3" fill="#555555" stroke="#555555" stroke-width="0.0">6</text></g>
<g transform="translate(265.01,186.70) scale(1,1.04)"><text x="0.00" y="0" font-family='"Liberation Sans", sans-serif' font-size="11.3" fill="#555555" stroke="#555555" stroke-width="0.0">0</text><text x="6.28" y="0" font-family='"Liberation Sans", sans-serif' font-size="11.3" fill="#555555" stroke="#555555" stroke-width="0.0">.</text><text x="9.42" y="0" font-family='"Liberation Sans", sans-serif' font-size="11.3" fill="#555555" stroke="#555555" stroke-width="0.0">0</text><text x="15.71" y="0" font-family='"Liberation Sans", sans-serif' font-size="11.3" fill="#555555" stroke="#555555" stroke-width="0.0">4</text></g>
<g transform="translate(265.01,243.95) scale(1,1.04)"><text x="0.00" y="0" font-family='"Liberation Sans", sans-serif' font-size="11.3" fill="#555555" stroke="#555555" stroke-width="0.0">0</text><text x="6.28" y="0" font-family='"Liberation Sans", sans-serif' font-size="11.3" fill="#555555" stroke="#555555" stroke-width="0.0">.</text><text x="9.42" y="0" font-family='"Liberation Sans", sans-serif' font-size="11.3" fill="#555555" stroke="#555555" stroke-width="0.0">0</text><text x="15.71" y="0" font-family='"Liberation Sans", sans-serif' font-size="11.3" fill="#555555" stroke="#555555" stroke-width="0.0">2</text></g>
<g transform="translate(329.15,267.35) scale(1,1.04)"><text x="0.00" y="0" font-family='"Liberation Sans", sans-serif' font-size="11.3" fill="#555555" stroke="#555555" stroke-width="0.0">0</text><text x="6.28" y="0" font-family='"Liberation Sans", sans-serif' font-size="11.3" fill="#555555" stroke="#555555" stroke-width="0.0">.</text><text x="9.42" y="0" font-family='"Liberation Sans", sans-serif' font-size="11.3" fill="#555555" stroke="#555555" stroke-width="0.0">5</text></g>
<g transform="translate(383.07,267.35) scale(1,1.04)"><path d="M4.24,-8.09 L4.24,0.00 L3.24,0.00 L3.24,-6.33 L2.77,-5.88 L2.03,-5.42 L1.19,-5.09 L1.19,-6.05 L2.15,-6.55 L2.83,-7.18 L3.39,-8.09Z" fill="#555555" stroke="#555555" stroke-width="0.0"/><text x="6.28" y="0" font-family='"Liberation Sans", sans-serif' font-size="11.3" fill="#555555" stroke="#555555" stroke-width="0.0">.</text><text x="9.42" y="0" font-family='"Liberation Sans", sans-serif' font-size="11.3" fill="#555555" stroke="#555555" stroke-width="0.0">0</text></g>
<g transform="translate(437.61,267.35) scale(1,1.04)"><path d="M4.24,-8.09 L4.24,0.00 L3.24,0.00 L3.24,-6.33 L2.77,-5.88 L2.03,-5.42 L1.19,-5.09 L1.19,-6.05 L2.15,-6.55 L2.83,-7.18 L3.39,-8.09Z" fill="#555555" stroke="#555555" stroke-width="0.0"/><text x="6.28" y="0" font-family='"Liberation Sans", sans-serif' font-size="11.3" fill="#555555" stroke="#555555" stroke-width="0.0">.</text><text x="9.42" y="0" font-family='"Liberation Sans", sans-serif' font-size="11.3" fill="#555555" stroke="#555555" stroke-width="0.0">5</text></g>
<text transform="translate(311.80,282.9) scale(1,1.05)" x="0" y="0" textLength="120.80" lengthAdjust="spacing" font-family='"Liberation Sans", sans-serif' font-size="13.8" fill="#000" stroke="#000" stroke-width="0.18">Ankle-brachial-index</text>
<text transform="translate(245.0,163.50) rotate(-90) scale(1,1.05)" x="0" y="0" textLength="72.00" lengthAdjust="spacing" font-family='"Liberation Sans", sans-serif' font-size="13.8" fill="#000" stroke="#000" stroke-width="0.18">Deep retinal</text>
<text transform="translate(259.6,171.50) rotate(-90) scale(1,1.05)" x="0" y="0" textLength="86.10" lengthAdjust="spacing" font-family='"Liberation Sans", sans-serif' font-size="13.8" fill="#000" stroke="#000" stroke-width="0.18">vessel density</text>
<rect x="516.0" y="5.0" width="166.70" height="245.50" fill="#EBEBEB"/>
<line x1="516.0" x2="682.7" y1="29.40" y2="29.40" stroke="#fff" stroke-opacity="0.72" stroke-width="1.2"/>
<line x1="516.0" x2="682.7" y1="90.50" y2="90.50" stroke="#fff" stroke-opacity="0.72" stroke-width="1.2"/>
<line x1="516.0" x2="682.7" y1="151.20" y2="151.20" stroke="#fff" stroke-opacity="0.72" stroke-width="1.2"/>
<line x1="516.0" x2="682.7" y1="212.40" y2="212.40" stroke="#fff" stroke-opacity="0.72" stroke-width="1.2"/>
<line x1="534.08" x2="534.08" y1="5.0" y2="250.5" stroke="#fff" stroke-opacity="0.72" stroke-width="1.2"/>
<line x1="591.33" x2="591.33" y1="5.0" y2="250.5" stroke="#fff" stroke-opacity="0.72" stroke-width="1.2"/>
<line x1="647.96" x2="647.96" y1="5.0" y2="250.5" stroke="#fff" stroke-opacity="0.72" stroke-width="1.2"/>
<line x1="516.0" x2="682.7" y1="59.80" y2="59.80" stroke="#fff" stroke-opacity="0.78" stroke-width="1.4"/>
<line x1="516.0" x2="682.7" y1="120.80" y2="120.80" stroke="#fff" stroke-opacity="0.78" stroke-width="1.4"/>
<line x1="516.0" x2="682.7" y1="181.60" y2="181.60" stroke="#fff" stroke-opacity="0.78" stroke-width="1.4"/>
<line x1="516.0" x2="682.7" y1="242.90" y2="242.90" stroke="#fff" stroke-opacity="0.78" stroke-width="1.4"/>
<line x1="562.70" x2="562.70" y1="5.0" y2="250.5" stroke="#fff" stroke-opacity="0.78" stroke-width="1.4"/>
<line x1="620.09" x2="620.09" y1="5.0" y2="250.5" stroke="#fff" stroke-opacity="0.78" stroke-width="1.4"/>
<line x1="676.84" x2="676.84" y1="5.0" y2="250.5" stroke="#fff" stroke-opacity="0.78" stroke-width="1.4"/>
<polygon fill="#999999" fill-opacity="0.4" points="523.80,50.70 526.33,52.79 528.86,54.87 531.38,56.95 533.91,59.03 536.44,61.11 538.97,63.18 541.50,65.25 544.03,67.31 546.55,69.37 549.08,71.43 551.61,73.48 554.14,75.53 556.67,77.56 559.20,79.60 561.73,81.62 564.25,83.64 566.78,85.64 569.31,87.64 571.84,89.62 574.37,91.59 576.89,93.55 579.42,95.49 581.95,97.41 584.48,99.31 587.01,101.18 589.54,103.03 592.06,104.85 594.59,106.63 597.12,108.38 599.65,110.08 602.18,111.75 604.71,113.36 607.24,114.93 609.76,116.44 612.29,117.90 614.82,119.30 617.35,120.66 619.88,121.96 622.40,123.21 624.93,124.42 627.46,125.59 629.99,126.72 632.52,127.81 635.05,128.87 637.58,129.91 640.10,130.92 642.63,131.90 645.16,132.87 647.69,133.82 650.22,134.75 652.75,135.68 655.27,136.58 657.80,137.48 660.33,138.37 662.86,139.25 665.39,140.12 667.91,140.98 670.44,141.84 672.97,142.69 675.50,143.53 675.50,181.97 672.97,179.91 670.44,177.86 667.91,175.82 665.39,173.78 662.86,171.75 660.33,169.73 657.80,167.72 655.27,165.72 652.75,163.72 650.22,161.75 647.69,159.78 645.16,157.83 642.63,155.90 640.10,153.98 637.58,152.09 635.05,150.23 632.52,148.39 629.99,146.58 627.46,144.81 624.93,143.08 622.40,141.39 619.88,139.74 617.35,138.14 614.82,136.60 612.29,135.10 609.76,133.66 607.24,132.27 604.71,130.94 602.18,129.65 599.65,128.42 597.12,127.22 594.59,126.07 592.06,124.95 589.54,123.87 587.01,122.82 584.48,121.79 581.95,120.79 579.42,119.81 576.89,118.85 574.37,117.91 571.84,116.98 569.31,116.06 566.78,115.16 564.25,114.26 561.73,113.38 559.20,112.50 556.67,111.64 554.14,110.77 551.61,109.92 549.08,109.07 546.55,108.23 544.03,107.39 541.50,106.55 538.97,105.72 536.44,104.89 533.91,104.07 531.38,103.25 528.86,102.43 526.33,101.61 523.80,100.80"/>
<circle cx="537.9" cy="20.4" r="2.05" fill="#000" fill-opacity="0.28" stroke="#000" stroke-opacity="0.42" stroke-width="1.2"/>
<circle cx="545.4" cy="16.65" r="2.05" fill="#000" fill-opacity="0.28" stroke="#000" stroke-opacity="0.42" stroke-width="1.2"/>
<circle cx="592.4" cy="25.9" r="2.05" fill="#000" fill-opacity="0.28" stroke="#000" stroke-opacity="0.42" stroke-width="1.2"/>
<circle cx="627.65" cy="18.4" r="2.05" fill="#000" fill-opacity="0.28" stroke="#000" stroke-opacity="0.42" stroke-width="1.2"/>
<circle cx="601.65" cy="33.4" r="2.05" fill="#000" fill-opacity="0.28" stroke="#000" stroke-opacity="0.42" stroke-width="1.2"/>
<circle cx="603.4" cy="42.9" r="2.05" fill="#000" fill-opacity="0.28" stroke="#000" stroke-opacity="0.42" stroke-width="1.2"/>
<circle cx="545.4" cy="59.4" r="2.05" fill="#000" fill-opacity="0.28" stroke="#000" stroke-opacity="0.42" stroke-width="1.2"/>
<circle cx="592.4" cy="59.9" r="2.05" fill="#000" fill-opacity="0.28" stroke="#000" stroke-opacity="0.42" stroke-width="1.2"/>
<circle cx="620.4" cy="68.15" r="2.05" fill="#000" fill-opacity="0.28" stroke="#000" stroke-opacity="0.42" stroke-width="1.2"/>
<circle cx="581.15" cy="72.65" r="2.05" fill="#000" fill-opacity="0.28" stroke="#000" stroke-opacity="0.42" stroke-width="1.2"/>
<circle cx="596.15" cy="75.4" r="2.05" fill="#000" fill-opacity="0.28" stroke="#000" stroke-opacity="0.42" stroke-width="1.2"/>
<circle cx="603.65" cy="75.4" r="2.05" fill="#000" fill-opacity="0.28" stroke="#000" stroke-opacity="0.42" stroke-width="1.2"/>
<circle cx="601.65" cy="79.4" r="2.05" fill="#000" fill-opacity="0.28" stroke="#000" stroke-opacity="0.42" stroke-width="1.2"/>
<circle cx="612.9" cy="76.9" r="2.05" fill="#000" fill-opacity="0.28" stroke="#000" stroke-opacity="0.42" stroke-width="1.2"/>
<circle cx="627.9" cy="75.4" r="2.05" fill="#000" fill-opacity="0.28" stroke="#000" stroke-opacity="0.42" stroke-width="1.2"/>
<circle cx="670.4" cy="80.4" r="2.05" fill="#000" fill-opacity="0.28" stroke="#000" stroke-opacity="0.42" stroke-width="1.2"/>
<circle cx="572.9" cy="81.15" r="2.05" fill="#000" fill-opacity="0.28" stroke="#000" stroke-opacity="0.42" stroke-width="1.2"/>
<circle cx="523.65" cy="83.15" r="2.05" fill="#000" fill-opacity="0.28" stroke="#000" stroke-opacity="0.42" stroke-width="1.2"/>
<circle cx="575.9" cy="88.65" r="2.05" fill="#000" fill-opacity="0.28" stroke="#000" stroke-opacity="0.42" stroke-width="1.2"/>
<circle cx="586.15" cy="88.65" r="2.05" fill="#000" fill-opacity="0.28" stroke="#000" stroke-opacity="0.42" stroke-width="1.2"/>
<circle cx="596.15" cy="88.65" r="2.05" fill="#000" fill-opacity="0.28" stroke="#000" stroke-opacity="0.42" stroke-width="1.2"/>
<circle cx="600.9" cy="88.65" r="2.05" fill="#000" fill-opacity="0.28" stroke="#000" stroke-opacity="0.42" stroke-width="1.2"/>
<circle cx="601.65" cy="92.4" r="2.05" fill="#000" fill-opacity="0.28" stroke="#000" stroke-opacity="0.42" stroke-width="1.2"/>
<circle cx="594.15" cy="95.65" r="2.05" fill="#000" fill-opacity="0.28" stroke="#000" stroke-opacity="0.42" stroke-width="1.2"/>
<circle cx="596.15" cy="99.15" r="2.05" fill="#000" fill-opacity="0.28" stroke="#000" stroke-opacity="0.42" stroke-width="1.2"/>
<circle cx="654.65" cy="87.9" r="2.05" fill="#000" fill-opacity="0.28" stroke="#000" stroke-opacity="0.42" stroke-width="1.2"/>
<circle cx="586.15" cy="101.65" r="2.05" fill="#000" fill-opacity="0.28" stroke="#000" stroke-opacity="0.42" stroke-width="1.2"/>
<circle cx="563.65" cy="105.4" r="2.05" fill="#000" fill-opacity="0.28" stroke="#000" stroke-opacity="0.42" stroke-width="1.2"/>
<circle cx="577.9" cy="105.4" r="2.05" fill="#000" fill-opacity="0.28" stroke="#000" stroke-opacity="0.42" stroke-width="1.2"/>
<circle cx="612.9" cy="103.15" r="2.05" fill="#000" fill-opacity="0.28" stroke="#000" stroke-opacity="0.42" stroke-width="1.2"/>
<circle cx="620.4" cy="108.15" r="2.05" fill="#000" fill-opacity="0.28" stroke="#000" stroke-opacity="0.42" stroke-width="1.2"/>
<circle cx="626.65" cy="108.65" r="2.05" fill="#000" fill-opacity="0.28" stroke="#000" stroke-opacity="0.42" stroke-width="1.2"/>
<circle cx="636.65" cy="104.4" r="2.05" fill="#000" fill-opacity="0.28" stroke="#000" stroke-opacity="0.42" stroke-width="1.2"/>
<circle cx="636.65" cy="106.15" r="2.05" fill="#000" fill-opacity="0.28" stroke="#000" stroke-opacity="0.42" stroke-width="1.2"/>
<circle cx="597.4" cy="111.9" r="2.05" fill="#000" fill-opacity="0.28" stroke="#000" stroke-opacity="0.42" stroke-width="1.2"/>
<circle cx="633.4" cy="114.4" r="2.05" fill="#000" fill-opacity="0.28" stroke="#000" stroke-opacity="0.42" stroke-width="1.2"/>
<circle cx="623.4" cy="116.9" r="2.05" fill="#000" fill-opacity="0.28" stroke="#000" stroke-opacity="0.42" stroke-width="1.2"/>
<circle cx="654.65" cy="114.4" r="2.05" fill="#000" fill-opacity="0.28" stroke="#000" stroke-opacity="0.42" stroke-width="1.2"/>
<circle cx="523.65" cy="114.4" r="2.05" fill="#000" fill-opacity="0.28" stroke="#000" stroke-opacity="0.42" stroke-width="1.2"/>
<circle cx="569.65" cy="115.65" r="2.05" fill="#000" fill-opacity="0.28" stroke="#000" stroke-opacity="0.42" stroke-width="1.2"/>
<circle cx="569.15" cy="118.15" r="2.05" fill="#000" fill-opacity="0.28" stroke="#000" stroke-opacity="0.42" stroke-width="1.2"/>
<circle cx="566.65" cy="122.9" r="2.05" fill="#000" fill-opacity="0.28" stroke="#000" stroke-opacity="0.42" stroke-width="1.2"/>
<circle cx="575.9" cy="121.9" r="2.05" fill="#000" fill-opacity="0.28" stroke="#000" stroke-opacity="0.42" stroke-width="1.2"/>
<circle cx="609.9" cy="128.65" r="2.05" fill="#000" fill-opacity="0.28" stroke="#000" stroke-opacity="0.42" stroke-width="1.2"/>
<circle cx="635.9" cy="132.15" r="2.05" fill="#000" fill-opacity="0.28" stroke="#000" stroke-opacity="0.42" stroke-width="1.2"/>
<circle cx="651.65" cy="127.65" r="2.05" fill="#000" fill-opacity="0.28" stroke="#000" stroke-opacity="0.42" stroke-width="1.2"/>
<circle cx="654.65" cy="126.65" r="2.05" fill="#000" fill-opacity="0.28" stroke="#000" stroke-opacity="0.42" stroke-width="1.2"/>
<circle cx="675.65" cy="133.0" r="2.05" fill="#000" fill-opacity="0.28" stroke="#000" stroke-opacity="0.42" stroke-width="1.2"/>
<circle cx="577.9" cy="136.4" r="2.05" fill="#000" fill-opacity="0.28" stroke="#000" stroke-opacity="0.42" stroke-width="1.2"/>
<circle cx="597.4" cy="139.9" r="2.05" fill="#000" fill-opacity="0.28" stroke="#000" stroke-opacity="0.42" stroke-width="1.2"/>
<circle cx="596.15" cy="143.15" r="2.05" fill="#000" fill-opacity="0.28" stroke="#000" stroke-opacity="0.42" stroke-width="1.2"/>
<circle cx="585.9" cy="146.4" r="2.05" fill="#000" fill-opacity="0.28" stroke="#000" stroke-opacity="0.42" stroke-width="1.2"/>
<circle cx="585.9" cy="147.65" r="2.05" fill="#000" fill-opacity="0.28" stroke="#000" stroke-opacity="0.42" stroke-width="1.2"/>
<circle cx="651.65" cy="138.65" r="2.05" fill="#000" fill-opacity="0.28" stroke="#000" stroke-opacity="0.42" stroke-width="1.2"/>
<circle cx="661.15" cy="136.9" r="2.05" fill="#000" fill-opacity="0.28" stroke="#000" stroke-opacity="0.42" stroke-width="1.2"/>
<circle cx="635.15" cy="145.15" r="2.05" fill="#000" fill-opacity="0.28" stroke="#000" stroke-opacity="0.42" stroke-width="1.2"/>
<circle cx="670.4" cy="148.9" r="2.05" fill="#000" fill-opacity="0.28" stroke="#000" stroke-opacity="0.42" stroke-width="1.2"/>
<circle cx="670.4" cy="150.15" r="2.05" fill="#000" fill-opacity="0.28" stroke="#000" stroke-opacity="0.42" stroke-width="1.2"/>
<circle cx="642.4" cy="153.65" r="2.05" fill="#000" fill-opacity="0.28" stroke="#000" stroke-opacity="0.42" stroke-width="1.2"/>
<circle cx="635.15" cy="154.4" r="2.05" fill="#000" fill-opacity="0.28" stroke="#000" stroke-opacity="0.42" stroke-width="1.2"/>
<circle cx="632.15" cy="157.65" r="2.05" fill="#000" fill-opacity="0.28" stroke="#000" stroke-opacity="0.42" stroke-width="1.2"/>
<circle cx="600.9" cy="156.15" r="2.05" fill="#000" fill-opacity="0.28" stroke="#000" stroke-opacity="0.42" stroke-width="1.2"/>
<circle cx="617.4" cy="164.4" r="2.05" fill="#000" fill-opacity="0.28" stroke="#000" stroke-opacity="0.42" stroke-width="1.2"/>
<circle cx="627.65" cy="163.65" r="2.05" fill="#000" fill-opacity="0.28" stroke="#000" stroke-opacity="0.42" stroke-width="1.2"/>
<circle cx="635.15" cy="162.65" r="2.05" fill="#000" fill-opacity="0.28" stroke="#000" stroke-opacity="0.42" stroke-width="1.2"/>
<circle cx="632.15" cy="167.4" r="2.05" fill="#000" fill-opacity="0.28" stroke="#000" stroke-opacity="0.42" stroke-width="1.2"/>
<circle cx="627.65" cy="171.15" r="2.05" fill="#000" fill-opacity="0.28" stroke="#000" stroke-opacity="0.42" stroke-width="1.2"/>
<circle cx="654.65" cy="164.4" r="2.05" fill="#000" fill-opacity="0.28" stroke="#000" stroke-opacity="0.42" stroke-width="1.2"/>
<circle cx="654.65" cy="170.15" r="2.05" fill="#000" fill-opacity="0.28" stroke="#000" stroke-opacity="0.42" stroke-width="1.2"/>
<circle cx="665.65" cy="169.4" r="2.05" fill="#000" fill-opacity="0.28" stroke="#000" stroke-opacity="0.42" stroke-width="1.2"/>
<circle cx="563.65" cy="167.4" r="2.05" fill="#000" fill-opacity="0.28" stroke="#000" stroke-opacity="0.42" stroke-width="1.2"/>
<circle cx="631.9" cy="175.65" r="2.05" fill="#000" fill-opacity="0.28" stroke="#000" stroke-opacity="0.42" stroke-width="1.2"/>
<circle cx="633.65" cy="177.65" r="2.05" fill="#000" fill-opacity="0.28" stroke="#000" stroke-opacity="0.42" stroke-width="1.2"/>
<circle cx="594.15" cy="178.9" r="2.05" fill="#000" fill-opacity="0.28" stroke="#000" stroke-opacity="0.42" stroke-width="1.2"/>
<circle cx="613.65" cy="180.15" r="2.05" fill="#000" fill-opacity="0.28" stroke="#000" stroke-opacity="0.42" stroke-width="1.2"/>
<circle cx="566.4" cy="181.4" r="2.05" fill="#000" fill-opacity="0.28" stroke="#000" stroke-opacity="0.42" stroke-width="1.2"/>
<circle cx="601.65" cy="184.9" r="2.05" fill="#000" fill-opacity="0.28" stroke="#000" stroke-opacity="0.42" stroke-width="1.2"/>
<circle cx="635.9" cy="184.0" r="2.05" fill="#000" fill-opacity="0.28" stroke="#000" stroke-opacity="0.42" stroke-width="1.2"/>
<circle cx="654.65" cy="187.5" r="2.05" fill="#000" fill-opacity="0.28" stroke="#000" stroke-opacity="0.42" stroke-width="1.2"/>
<circle cx="665.65" cy="191.4" r="2.05" fill="#000" fill-opacity="0.28" stroke="#000" stroke-opacity="0.42" stroke-width="1.2"/>
<circle cx="635.9" cy="193.15" r="2.05" fill="#000" fill-opacity="0.28" stroke="#000" stroke-opacity="0.42" stroke-width="1.2"/>
<circle cx="613.65" cy="199.4" r="2.05" fill="#000" fill-opacity="0.28" stroke="#000" stroke-opacity="0.42" stroke-width="1.2"/>
<circle cx="642.4" cy="200.4" r="2.05" fill="#000" fill-opacity="0.28" stroke="#000" stroke-opacity="0.42" stroke-width="1.2"/>
<circle cx="572.9" cy="208.9" r="2.05" fill="#000" fill-opacity="0.28" stroke="#000" stroke-opacity="0.42" stroke-width="1.2"/>
<circle cx="661.15" cy="212.65" r="2.05" fill="#000" fill-opacity="0.28" stroke="#000" stroke-opacity="0.42" stroke-width="1.2"/>
<circle cx="676.15" cy="213.4" r="2.05" fill="#000" fill-opacity="0.28" stroke="#000" stroke-opacity="0.42" stroke-width="1.2"/>
<circle cx="616.4" cy="219.9" r="2.05" fill="#000" fill-opacity="0.28" stroke="#000" stroke-opacity="0.42" stroke-width="1.2"/>
<circle cx="635.9" cy="240.4" r="2.05" fill="#000" fill-opacity="0.28" stroke="#000" stroke-opacity="0.42" stroke-width="1.2"/>
<line x1="523.8" y1="75.75" x2="675.5" y2="162.75" stroke="#3366FF" stroke-width="2.3" stroke-linecap="butt"/>
<line x1="512.0" x2="516.0" y1="59.80" y2="59.80" stroke="#333" stroke-width="1"/>
<line x1="512.0" x2="516.0" y1="120.80" y2="120.80" stroke="#333" stroke-width="1"/>
<line x1="512.0" x2="516.0" y1="181.60" y2="181.60" stroke="#333" stroke-width="1"/>
<line x1="512.0" x2="516.0" y1="242.90" y2="242.90" stroke="#333" stroke-width="1"/>
<line x1="562.70" x2="562.70" y1="250.5" y2="254.5" stroke="#333" stroke-width="1"/>
<line x1="620.09" x2="620.09" y1="250.5" y2="254.5" stroke="#333" stroke-width="1"/>
<line x1="676.84" x2="676.84" y1="250.5" y2="254.5" stroke="#333" stroke-width="1"/>
<g transform="translate(496.93,64.85) scale(1,1.04)"><text x="0.00" y="0" font-family='"Liberation Sans", sans-serif' font-size="11.3" fill="#555555" stroke="#555555" stroke-width="0.0">5</text><text x="6.28" y="0" font-family='"Liberation Sans", sans-serif' font-size="11.3" fill="#555555" stroke="#555555" stroke-width="0.0">0</text></g>
<g transform="translate(496.93,125.85) scale(1,1.04)"><text x="0.00" y="0" font-family='"Liberation Sans", sans-serif' font-size="11.3" fill="#555555" stroke="#555555" stroke-width="0.0">4</text><text x="6.28" y="0" font-family='"Liberation Sans", sans-serif' font-size="11.3" fill="#555555" stroke="#555555" stroke-width="0.0">5</text></g>
<g transform="translate(496.93,186.65) scale(1,1.04)"><text x="0.00" y="0" font-family='"Liberation Sans", sans-serif' font-size="11.3" fill="#555555" stroke="#555555" stroke-width="0.0">4</text><text x="6.28" y="0" font-family='"Liberation Sans", sans-serif' font-size="11.3" fill="#555555" stroke="#555555" stroke-width="0.0">0</text></g>
<g transform="translate(496.93,247.95) scale(1,1.04)"><text x="0.00" y="0" font-family='"Liberation Sans", sans-serif' font-size="11.3" fill="#555555" stroke="#555555" stroke-width="0.0">3</text><text x="6.28" y="0" font-family='"Liberation Sans", sans-serif' font-size="11.3" fill="#555555" stroke="#555555" stroke-width="0.0">5</text></g>
<g transform="translate(554.25,267.35) scale(1,1.04)"><text x="0.00" y="0" font-family='"Liberation Sans", sans-serif' font-size="11.3" fill="#555555" stroke="#555555" stroke-width="0.0">0</text><text x="6.28" y="0" font-family='"Liberation Sans", sans-serif' font-size="11.3" fill="#555555" stroke="#555555" stroke-width="0.0">.</text><text x="9.42" y="0" font-family='"Liberation Sans", sans-serif' font-size="11.3" fill="#555555" stroke="#555555" stroke-width="0.0">5</text></g>
<g transform="translate(611.64,267.35) scale(1,1.04)"><path d="M4.24,-8.09 L4.24,0.00 L3.24,0.00 L3.24,-6.33 L2.77,-5.88 L2.03,-5.42 L1.19,-5.09 L1.19,-6.05 L2.15,-6.55 L2.83,-7.18 L3.39,-8.09Z" fill="#555555" stroke="#555555" stroke-width="0.0"/><text x="6.28" y="0" font-family='"Liberation Sans", sans-serif' font-size="11.3" fill="#555555" stroke="#555555" stroke-width="0.0">.</text><text x="9.42" y="0" font-family='"Liberation Sans", sans-serif' font-size="11.3" fill="#555555" stroke="#555555" stroke-width="0.0">0</text></g>
<g transform="translate(668.39,267.35) scale(1,1.04)"><path d="M4.24,-8.09 L4.24,0.00 L3.24,0.00 L3.24,-6.33 L2.77,-5.88 L2.03,-5.42 L1.19,-5.09 L1.19,-6.05 L2.15,-6.55 L2.83,-7.18 L3.39,-8.09Z" fill="#555555" stroke="#555555" stroke-width="0.0"/><text x="6.28" y="0" font-family='"Liberation Sans", sans-serif' font-size="11.3" fill="#555555" stroke="#555555" stroke-width="0.0">.</text><text x="9.42" y="0" font-family='"Liberation Sans", sans-serif' font-size="11.3" fill="#555555" stroke="#555555" stroke-width="0.0">5</text></g>
<text transform="translate(539.70,282.9) scale(1,1.05)" x="0" y="0" textLength="120.30" lengthAdjust="spacing" font-family='"Liberation Sans", sans-serif' font-size="13.8" fill="#000" stroke="#000" stroke-width="0.18">Ankle-brachial-index</text>
<text transform="translate(476.75,175.20) rotate(-90) scale(1,1.05)" x="0" y="0" textLength="91.30" lengthAdjust="spacing" font-family='"Liberation Sans", sans-serif' font-size="13.8" fill="#000" stroke="#000" stroke-width="0.18">Choriocapillaris</text>
<text transform="translate(492.0,182.60) rotate(-90) scale(1,1.05)" x="0" y="0" textLength="109.00" lengthAdjust="spacing" font-family='"Liberation Sans", sans-serif' font-size="13.8" fill="#000" stroke="#000" stroke-width="0.18">non-perfused area</text>
</svg></body></html>
